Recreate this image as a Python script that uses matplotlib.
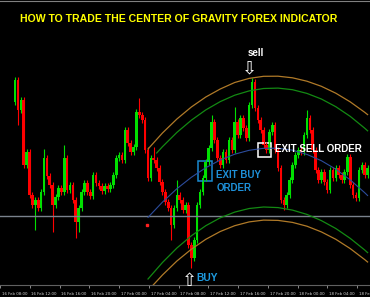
import matplotlib
matplotlib.use('Agg')
import matplotlib.pyplot as plt
from matplotlib.patches import Rectangle

# price in chart units (no price scale visible in the screenshot)
first_open = 198
closes = [220, 190, 200, 135, 148, 105, 95, 100, 92, 108,
          142, 124, 115, 95, 103, 112, 108, 142, 110, 115,
          100, 78, 92, 108, 117, 108, 104, 125, 117, 114,
          109, 114, 111, 115, 125, 142, 145, 140, 170, 157,
          148, 153, 188, 185, 180, 150, 122, 142, 140, 132,
          118, 108, 98, 92, 75, 92, 105, 100, 90, 95,
          55, 42, 60, 95, 108, 122, 138, 152, 178, 160,
          142, 135, 148, 140, 160, 150, 178, 165, 182, 172,
          162, 195, 218, 192, 180, 170, 155, 150, 168, 175,
          150, 132, 100, 95, 105, 120, 135, 145, 150, 148,
          165, 182, 170, 150, 130, 120, 128, 118, 110, 130,
          122, 132, 125, 120, 128, 143, 115, 105, 102, 130,
          135, 125, 132]
# long wicks {bar: price}
high_spikes = {10: 151, 17: 155, 43: 202, 48: 153, 56: 120, 68: 185,
               76: 193, 82: 222, 101: 190}
low_spikes = {1: 175, 7: 70, 13: 68, 21: 62, 22: 68, 54: 60, 61: 32, 93: 90}

# center of gravity bands
band_idx = [46, 51, 56, 61, 66, 71, 76, 81, 86, 91, 96, 101, 106, 111, 116, 121, 122]
cog_center = [82.6, 97.9, 111.3, 122.7, 132.3, 140, 145.8, 149.7, 151.7, 151.8,
              149.8, 145.6, 139.3, 130.8, 120.1, 107.3, 104.5]
lower_green = [21, 37.5, 52, 64.2, 74.3, 82.2, 87.9, 91.5, 93, 92.4,
               89.9, 85.6, 79.4, 71.5, 61.6, 50, 47.4]
upper_orange = [151, 167, 181, 193, 203, 211, 217.5, 221.6, 223.7, 223.8,
                222.2, 218.8, 213.7, 206.8, 198.1, 187.7, 185.4]
green_up_idx = [49, 51, 56, 61, 66, 71, 76, 81, 86, 91, 96, 101, 106, 111, 116, 121, 122]
upper_green = [147, 153.3, 167.6, 179.8, 190.1, 198.4, 204.8, 209.1, 211.5, 211.9,
               210.3, 206.6, 201, 193.3, 183.6, 171.8, 169.2]
orange_lo_idx = [47, 51, 56, 61, 66, 71, 76, 81, 86, 91, 96, 101, 106, 111, 116, 121, 122]
lower_orange = [12.5, 25, 39, 50.8, 60.7, 68.5, 74.3, 78.1, 79.9, 79.6,
                77.6, 73.8, 68.1, 60.7, 51.4, 40.4, 38]
bid_line = 84

time_labels = ['16 Feb 08:00', '16 Feb 12:00', '16 Feb 16:00', '16 Feb 20:00',
               '17 Feb 00:00', '17 Feb 04:00', '17 Feb 08:00', '17 Feb 12:00',
               '17 Feb 16:00', '17 Feb 20:00', '18 Feb 00:00', '18 Feb 04:00',
               '18 Feb 08:00']

W, H = 370, 297
fig = plt.figure(figsize=(W / 100, H / 100), dpi=100, facecolor='black')
ax = fig.add_axes([0, 12 / H, 1, 284 / H], facecolor='black')

# candles
opens = [first_open] + closes[:-1]
for i, (o, c) in enumerate(zip(opens, closes)):
    col = '#00e000' if c > o else '#ff0000'
    hi = high_spikes.get(i, max(o, c) + 3)
    lo = low_spikes.get(i, min(o, c) - 3)
    ax.vlines(i, lo, hi, color=col, lw=0.8)
    ax.bar(i, max(abs(c - o), 1.5), bottom=min(o, c), width=0.9, color=col, linewidth=0)

ax.axhline(bid_line, color='#7a828c', lw=1)

ax.plot(band_idx, upper_orange, color='#b07a28', lw=0.9)
ax.plot(orange_lo_idx, lower_orange, color='#b07a28', lw=0.9)
ax.plot(green_up_idx, upper_green, color='#138a13', lw=0.9)
ax.plot(band_idx, lower_green, color='#138a13', lw=0.9)
ax.plot(band_idx, cog_center, color='#2c4c9c', lw=0.8)
ax.plot(band_idx[0] - 0.2, cog_center[0] - 7.5, 's', color='#ff2020', ms=1.6)

ax.set_xlim(-0.5, W / 3 - 0.5)
ax.set_ylim(15, 299)
for s in ['left', 'right']:
    ax.spines[s].set_visible(False)
ax.spines['top'].set_color('#808080')
ax.spines['bottom'].set_color('#606060')
ax.set_yticks([])

# time axis (every 4 hours)
t0, step = -5.23, 10.3
tick_pos = [t0 + k * step for k in range(len(time_labels))]
ax.set_xticks(tick_pos)
ax.set_xticklabels([])
ax.tick_params(axis='x', colors='#a0a0a0', length=2, width=0.6, direction='out')
for p, lab in zip(tick_pos, time_labels):
    ax.text(p + 0.6, -0.025, lab, transform=ax.get_xaxis_transform(), ha='left',
            va='top', fontsize=2.8, color='#d8d8d8', clip_on=False)

bold = dict(fontweight='bold', family='Liberation Sans')
fig.text(20 / W, 1 - 19 / H, 'HOW TO TRADE THE CENTER OF GRAVITY FOREX INDICATOR',
         color='#ffff00', fontsize=7.6, ha='left', va='center', **bold)

ax.text(83.5, 246.5, 'sell', color='white', fontsize=7, ha='center', va='center', **bold)
ax.text(81, 231, '\u21e9', color='white', fontsize=13, ha='center', va='center',
        family='DejaVu Sans')
ax.text(60.3, 19, '\u21e7', color='white', fontsize=13, ha='center', va='center',
        family='DejaVu Sans', clip_on=False)
ax.text(62.6, 22, 'BUY', color='#1e9be0', fontsize=7.4, ha='left', va='center', **bold)

ax.add_patch(Rectangle((63.17, 119), 5, 20, fill=False, ec='#1a8ad0', lw=1.1))
ax.text(69.6, 124.5, 'EXIT BUY', color='#1e90d8', fontsize=7, ha='left', va='center', **bold)
ax.text(69.6, 112, 'ORDER', color='#1e90d8', fontsize=7, ha='left', va='center', **bold)

ax.add_patch(Rectangle((84.17, 143), 4.33, 14, fill=False, ec='white', lw=1.1))
ax.text(90.0, 151, 'EXIT SELL ORDER', color='white', fontsize=7, ha='left', va='center', **bold)

fig.savefig('out.png', dpi=100, facecolor='black')
